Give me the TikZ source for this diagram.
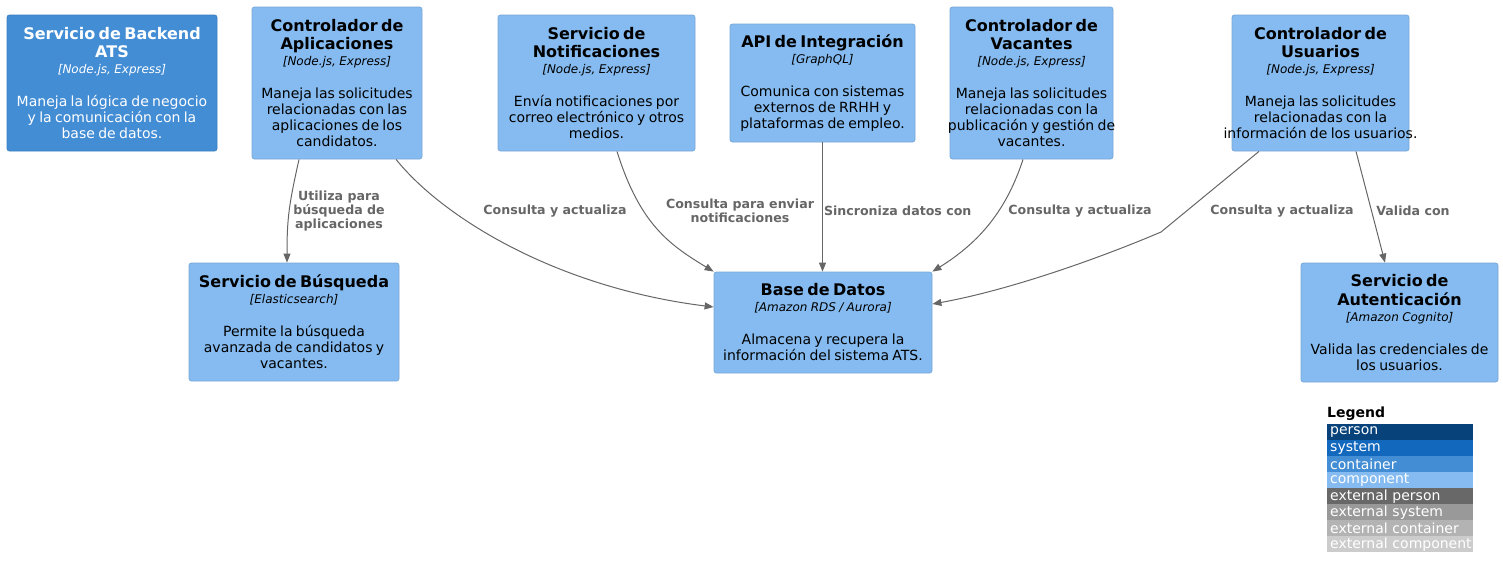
\documentclass[tikz,border=0pt]{standalone}
\usepackage{fontspec}
\setmainfont{DejaVu Sans}
\usetikzlibrary{arrows.meta,positioning}

\definecolor{compfill}{HTML}{85BBF0}
\definecolor{compline}{HTML}{78A8D8}
\definecolor{contfill}{HTML}{438DD5}
\definecolor{contline}{HTML}{3C7FC0}
\definecolor{relgray}{HTML}{666666}
\definecolor{perscol}{HTML}{08427B}
\definecolor{syscol}{HTML}{1168BD}
\definecolor{extpers}{HTML}{686868}
\definecolor{extsys}{HTML}{999999}
\definecolor{extcont}{HTML}{B3B3B3}
\definecolor{extcomp}{HTML}{CCCCCC}

\newcommand{\ctitle}[1]{{\fontsize{16}{18.5}\selectfont\bfseries #1\par}}
\newcommand{\ctech}[1]{{\fontsize{12}{16}\selectfont\itshape [#1]\par}\vspace{17pt}}
\newcommand{\cdesc}[1]{{\fontsize{14}{16}\selectfont #1\par}}
\hyphenpenalty=10000\relax

\begin{document}
\begin{tikzpicture}[x=1pt, y=-1pt,
    comp/.style={rectangle, rounded corners=2.5pt, draw=compline, fill=compfill, line width=0.8pt,
                 align=center, inner xsep=-20pt, inner ysep=0pt},
    cont/.style={comp, draw=contline, fill=contfill, text=white},
    rel/.style={draw=relgray, line width=1pt, -{Triangle[length=9pt, width=7pt]}},
    lbl/.style={text=relgray, font=\fontsize{12.6}{14}\selectfont\bfseries, align=center, inner sep=0pt},
    legbar/.style={anchor=north west, inner xsep=3pt, inner ysep=0pt, text width=140pt,
                   minimum height=16pt, text=white, font=\fontsize{14}{16}\selectfont, align=left}]
\useasboundingbox (0,0) rectangle (1503,579);

% top row (text width = box width + 40)
\node[cont, text width=250pt, minimum height=136pt] (backend) at (112,83)
  {\ctitle{Servicio de Backend\\ATS}\ctech{Node.js, Express}\cdesc{Maneja la lógica de negocio\\y la comunicación con la\\base de datos.}};
\node[comp, text width=210pt, minimum height=152pt] (apps) at (337,83)
  {\ctitle{Controlador de\\Aplicaciones}\ctech{Node.js, Express}\cdesc{Maneja las solicitudes\\relacionadas con las\\aplicaciones de los\\candidatos.}};
\node[comp, text width=237pt, minimum height=136pt] (notif) at (596.5,83)
  {\ctitle{Servicio de\\Notificaciones}\ctech{Node.js, Express}\cdesc{Envía notificaciones por\\correo electrónico y otros\\medios.}};
\node[comp, text width=225pt, minimum height=118pt] (api) at (822.5,83)
  {\ctitle{API de Integración}\ctech{GraphQL}\cdesc{Comunica con sistemas\\externos de RRHH y\\plataformas de empleo.}};
\node[comp, text width=203pt, minimum height=152pt] (vacs) at (1031.5,83)
  {\ctitle{Controlador de\\Vacantes}\ctech{Node.js, Express}\cdesc{Maneja las solicitudes\\relacionadas con la\\publicación y gestión de\\vacantes.}};
\node[comp, text width=217pt, minimum height=136pt] (users) at (1320.5,83)
  {\ctitle{Controlador de\\Usuarios}\ctech{Node.js, Express}\cdesc{Maneja las solicitudes\\relacionadas con la\\información de los usuarios.}};

% bottom row
\node[comp, text width=250pt, minimum height=118pt] (search) at (294,322)
  {\ctitle{Servicio de Búsqueda}\ctech{Elasticsearch}\cdesc{Permite la búsqueda\\avanzada de candidatos y\\vacantes.}};
\node[comp, text width=258pt, minimum height=101pt] (db) at (823,322.5)
  {\ctitle{Base de Datos}\ctech{Amazon RDS / Aurora}\cdesc{Almacena y recupera la\\información del sistema ATS.}};
\node[comp, text width=237pt, minimum height=119pt] (auth) at (1399.5,322.5)
  {\ctitle{Servicio de\\Autenticación}\ctech{Amazon Cognito}\cdesc{Valida las credenciales de\\los usuarios.}};

% relations
\draw[rel] ([xshift=-38pt]apps.south) .. controls +(-10,45) and +(0,-45) .. ([xshift=-7pt]search.north)
  node[lbl] (l1) at (339,211) {Utiliza para\\búsqueda de\\aplicaciones};
\draw[rel] ([xshift=59pt]apps.south) .. controls (445,220) and (560,288) .. ([yshift=15.5pt]db.west)
  node[lbl] (l2) at (555,211) {Consulta y actualiza};
\draw[rel] ([xshift=20.5pt]notif.south) .. controls (640,225) and (670,245) .. (db.north west)
  node[lbl] (l3) at (740,211) {Consulta para enviar\\notificaciones};
\draw[rel] (api.south) -- (api.south |- db.north)
  node[lbl, right=1pt, pos=0.53] (l4) {Sincroniza datos con};
\draw[rel] ([xshift=-8.5pt]vacs.south) .. controls (1005,215) and (975,245) .. (db.north east)
  node[lbl] (l5) at (1080,211) {Consulta y actualiza};
\draw[rel] ([xshift=-61.5pt]users.south) -- (1161,232) .. controls (1100,258) and (1010,290) .. ([yshift=18.5pt]db.east)
  node[lbl] (l6) at (1282,211) {Consulta y actualiza};
\draw[rel] ([xshift=35.5pt]users.south) -- ([xshift=-14.5pt]auth.north)
  node[lbl] (l7) at (1413,211) {Valida con};

% legend
\node[anchor=south west, inner sep=0pt, font=\fontsize{14}{16}\selectfont\bfseries] (legtitle) at (1327,421) {Legend};
\foreach \lab/\col [count=\i from 0] in {person/perscol, system/syscol, container/contfill,
    component/compfill, external person/extpers, external system/extsys,
    external container/extcont, external component/extcomp}
  \node[legbar, fill=\col] (leg\i) at (1327,{424+16*\i}) {\mbox{\lab}};
\end{tikzpicture}
\end{document}
